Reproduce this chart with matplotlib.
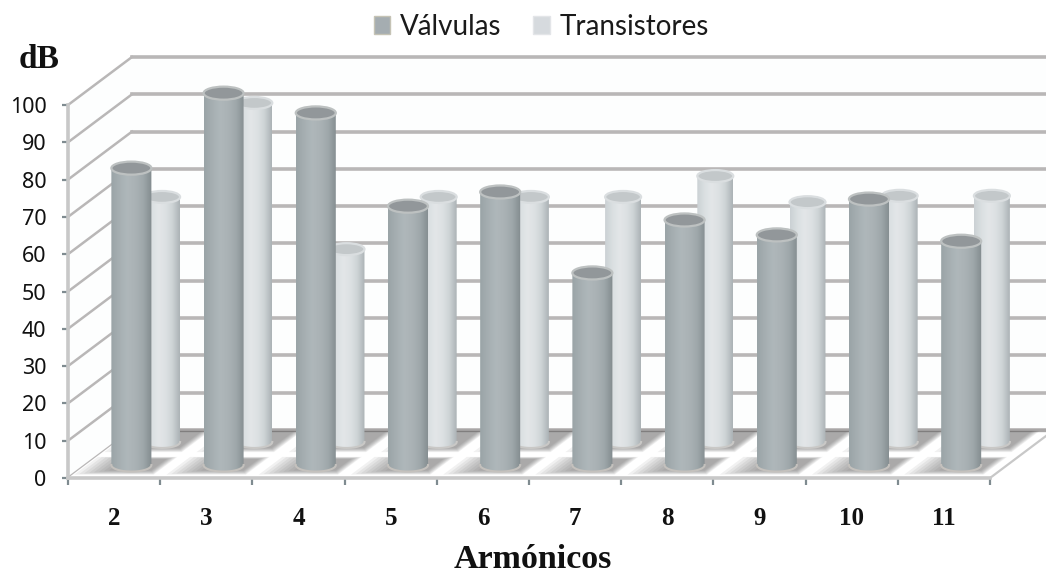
import numpy as np
import matplotlib
matplotlib.use("Agg")
import matplotlib.pyplot as plt
from matplotlib.patches import Polygon, Ellipse, Patch
from matplotlib.colors import LinearSegmentedColormap

#chart data
armonicos = ["2", "3", "4", "5", "6", "7", "8", "9", "10", "11"]
valvulas = [79.6, 99.7, 94.4, 69.4, 73.2, 51.5, 65.7, 61.7, 71.3, 60.0]
transistores = [65.7, 90.9, 51.7, 65.7, 65.7, 65.7, 71.3, 64.3, 66.0, 66.0]
yTicks = [0, 10, 20, 30, 40, 50, 60, 70, 80, 90, 100]

#fake 3d: how far one unit of depth moves a point, in data units
depthX = 0.694
depthY = 12.87


def proj(x, y, d):
    return x + d * depthX, y + d * depthY


def floorQuad(u0, u1, d0, d1):
    return [proj(u0, 0, d0), proj(u1, 0, d0), proj(u1, 0, d1), proj(u0, 0, d1)]


#one shaded cylinder standing on the floor
def cylinder(ax, center, d, value, width, ellH, cmap, topColor, rimColor, baseColor, z):
    cx, base = proj(center, 0, d)
    top = base + value
    left, right = cx - width / 2, cx + width / 2
    t = np.linspace(np.pi, 2 * np.pi, 40)
    arc = np.column_stack([cx + width / 2 * np.cos(t), base + ellH / 2 * np.sin(t)])
    outline = np.vstack([[[left, top]], arc, [[right, top]]])
    clip = Polygon(outline, closed=True, transform=ax.transData, fc="none", ec="none")
    ax.add_patch(clip)
    grad = np.linspace(0, 1, 64).reshape(1, -1)
    im = ax.imshow(grad, extent=(left, right, base - ellH, top), cmap=cmap, aspect="auto", zorder=z, interpolation="bilinear")
    im.set_clip_box(fig.bbox)
    im.set_clip_path(clip)
    ax.plot(arc[:, 0], arc[:, 1], color=baseColor, lw=1.5, zorder=z + 0.05, clip_on=False)
    ax.add_patch(Ellipse((cx, top), width, ellH, fc=topColor, ec=rimColor, lw=1.6, zorder=z + 0.1, clip_on=False))


darkMap = LinearSegmentedColormap.from_list("dark", ["#9aa4a7", "#a6afb2", "#afb7ba", "#aab2b5", "#9ea7aa", "#838c8f"])
lightMap = LinearSegmentedColormap.from_list("light", ["#cbd1d4", "#dadfe1", "#e3e6e8", "#dde1e3", "#cdd3d5", "#acb3b6"])

fig = plt.figure(figsize=(10.46, 5.79), dpi=100)
ax = fig.add_axes([68 / 1046, 101 / 579, 922 / 1046, 373 / 579])

gridColor = "#b9b7b7"

#walls
ax.add_patch(Polygon([proj(0, 0, 1), proj(11, 0, 1), proj(11, 100, 1), proj(0, 100, 1)], fc="#fdfefe", ec="none", zorder=0, clip_on=False))
ax.add_patch(Polygon([proj(0, 0, 0), proj(0, 0, 1), proj(0, 100, 1), proj(0, 100, 0)], fc="#fdfefe", ec="none", zorder=0, clip_on=False))

#grid on back and side wall
for y in yTicks:
    x0, y0 = proj(0, y, 1)
    x1, y1 = proj(11, y, 1)
    ax.plot([x0, x1], [y0, y1], color=gridColor, lw=2.6, zorder=1, clip_on=False)
    x2, y2 = proj(0, y, 0)
    ax.plot([x2, x0], [y2, y0], color=gridColor, lw=1.8, zorder=1, clip_on=False)

#floor
ax.add_patch(Polygon(floorQuad(0, 10, 0, 1), fc="white", ec="none", zorder=2, clip_on=False))
xe0, ye0 = proj(10, 0, 0)
xe1, ye1 = proj(10, 0, 1)
ax.plot([xe0, xe1], [ye0, ye1], color="#c8c8c8", lw=1.6, zorder=2, clip_on=False)
xb0, yb0 = proj(0, 0, 1)
xb1, yb1 = proj(11, 0, 1)
ax.plot([xb0, xb1], [yb0, yb1], color="#a9a7a7", lw=2.4, zorder=2.1, clip_on=False)

#soft shadows on the floor, stacked to look blurred
for i in range(len(armonicos)):
    for k in range(8):
        u0 = i + 0.02 + k * 0.045
        ax.add_patch(Polygon(floorQuad(u0, i + 0.88 - k * 0.012, 0.07 + k * 0.012, 0.44 - k * 0.006), fc="#5f5d5d", alpha=0.085, ec="none", zorder=2.2, clip_on=False))
        ax.add_patch(Polygon(floorQuad(u0, i + 0.86 - k * 0.012, 0.54 + k * 0.012, 0.98), fc="#5f5d5d", alpha=0.085, ec="none", zorder=2.2, clip_on=False))

#bars, light row first because it stands behind
for i, v in enumerate(transistores):
    cylinder(ax, i + 0.5, 0.75, v, 0.39, 3.2, lightMap, "#c3c8ca", "#dadee0", "#c9c8c6", 3)
for i, v in enumerate(valvulas):
    cylinder(ax, i + 0.5, 0.27, v, 0.434, 3.5, darkMap, "#92979a", "#bdc1c1", "#c4c1bd", 4)

#axes
ax.set_xlim(0, 10)
ax.set_ylim(0, 100)
for s in ["top", "right"]:
    ax.spines[s].set_visible(False)
for s in ["left", "bottom"]:
    ax.spines[s].set_color("#c8c8c8")
    ax.spines[s].set_linewidth(2.6)
    ax.spines[s].set_zorder(2.5)
ax.patch.set_visible(False)

ax.set_yticks(yTicks)
ax.set_yticklabels([str(y) for y in yTicks], fontfamily="Noto Sans", fontsize=15.5, color="#111111")
ax.tick_params(axis="y", length=4.5, width=1.6, color="#7f8b90", pad=11)
ax.set_xticks(np.arange(0, 11))
ax.set_xticklabels([])
ax.tick_params(axis="x", which="major", length=5, width=1.6, color="#7f8b90")
ax.set_xticks(np.arange(0.5, 10.5), labels=armonicos, minor=True, fontfamily="Liberation Serif", fontweight="bold", fontsize=18, color="#111111")
ax.tick_params(axis="x", which="minor", length=0, pad=21)
ax.set_xlabel("Armónicos", fontfamily="Liberation Serif", fontweight="bold", fontsize=24.5, labelpad=10, x=0.504, color="#111111")

fig.text(19 / 1046, 1 - 60 / 579, "dB", fontfamily="Liberation Serif", fontweight="bold", fontsize=24, va="center", color="#111111")

handles = [Patch(fc="#a5adb1", ec="#c5c3b5", label="Válvulas"), Patch(fc="#d6dade", ec="#e3e5e8", label="Transistores")]
ax.legend(handles=handles, ncol=2, loc="center", bbox_to_anchor=(0.5135, 1.21), frameon=False,
          prop={"family": "Lato", "size": 20}, handlelength=0.58, handleheight=0.6, handletextpad=0.36, columnspacing=1.15, labelcolor="#1a1a1a")

fig.savefig("out.png", dpi=100)
